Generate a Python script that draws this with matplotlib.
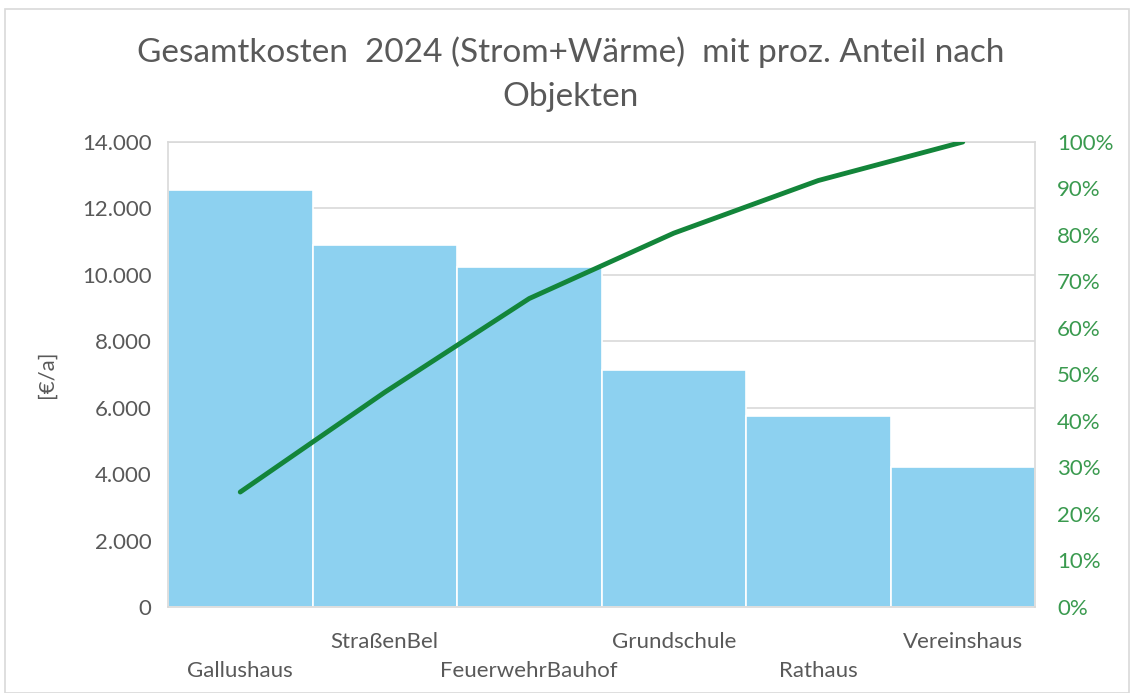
import matplotlib.pyplot as plt
from matplotlib.patches import Rectangle
import numpy as np

objekte = ['Gallushaus', 'StraßenBel', 'FeuerwehrBauhof', 'Grundschule', 'Rathaus', 'Vereinshaus']
kosten = [12560, 10900, 10240, 7140, 5750, 4210]

y_ticks = [0, 2000, 4000, 6000, 8000, 10000, 12000, 14000]
pct_ticks = [0, 10, 20, 30, 40, 50, 60, 70, 80, 90, 100]

plt.rcParams['font.family'] = ['Lato', 'DejaVu Sans']

grau = '#595959'
gruen_text = '#3a9a4f'

fig = plt.figure(figsize=(11.34, 6.93), dpi=100)
ax = fig.add_axes([168 / 1134, 1 - 607 / 693, 867 / 1134, 465 / 693])

x = np.arange(len(objekte))
ax.bar(x, kosten, width=1.0, color='#8dd1f0', edgecolor='white', linewidth=1.2, zorder=2)
ax.set_xlim(-0.5, len(objekte) - 0.5)
ax.set_ylim(0, 14000)
ax.set_yticks(y_ticks)
ax.set_yticklabels([f'{v:,}'.replace(',', '.') for v in y_ticks], fontsize=16, color=grau)
ax.yaxis.grid(True, color='#d9d9d9', linewidth=1.2, zorder=0)
ax.set_axisbelow(True)
ax.tick_params(axis='y', length=0, pad=12)
ax.set_ylabel('[€/a]', fontsize=16, color=grau, labelpad=18)
for s in ax.spines.values():
    s.set_color('#d9d9d9')
    s.set_linewidth(1.2)

# staggered category labels
ax.set_xticks(x)
ax.set_xticklabels([])
ax.tick_params(axis='x', length=0)
for i, name in enumerate(objekte):
    off = -39 if i % 2 == 0 else -18
    ax.annotate(name, xy=(i, 0), xycoords=('data', 'axes fraction'),
                xytext=(0, off), textcoords='offset points',
                ha='center', va='top', fontsize=16, color=grau)

ax2 = ax.twinx()
kum = np.cumsum(kosten) / np.sum(kosten) * 100
ax2.plot(x, kum, color='#13853a', linewidth=3.5, solid_capstyle='round', zorder=3)
ax2.set_ylim(0, 100)
ax2.set_yticks(pct_ticks)
ax2.set_yticklabels([f'{p}%' for p in pct_ticks], fontsize=16, color=gruen_text)
ax2.tick_params(axis='y', length=0, pad=16)
for s in ax2.spines.values():
    s.set_visible(False)

fig.text(0.503, 0.948, 'Gesamtkosten  2024 (Strom+Wärme)  mit proz. Anteil nach\nObjekten',
         ha='center', va='top', fontsize=24, color=grau, linespacing=1.6)

fig.patches.append(Rectangle((5 / 1134, 0), 1 - 10 / 1134, 1 - 9 / 693, transform=fig.transFigure,
                             fill=False, edgecolor='#d9d9d9', linewidth=1.2))

fig.savefig('out.png', dpi=100)
